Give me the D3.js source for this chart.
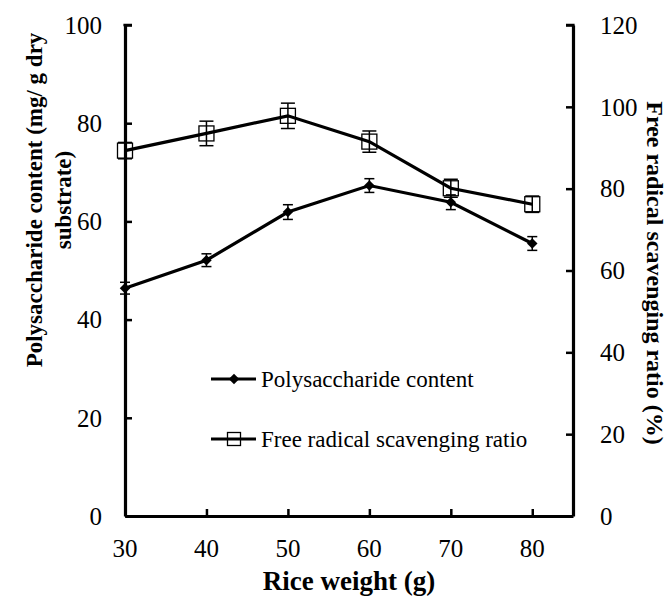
<!DOCTYPE html>
<html>
<head>
<meta charset="utf-8">
<script src="https://cdn.jsdelivr.net/npm/d3@7"></script>
<style>
  body { margin: 0; background: #fff; }
</style>
</head>
<body>
<script>
// data
const riceWeight = [30, 40, 50, 60, 70, 80];
const polysaccharide = [46.4, 52.1, 61.9, 67.3, 63.9, 55.5];
const polyErr = [1.2, 1.3, 1.5, 1.4, 1.5, 1.4];
const scavenging = [89.3, 93.5, 97.8, 91.5, 80.1, 76.2];
const scavErr = [2.0, 3.0, 3.1, 2.6, 2.2, 2.0];
const xTicks = [30, 40, 50, 60, 70, 80];
const yLeftTicks = [0, 20, 40, 60, 80, 100];
const yRightTicks = [0, 20, 40, 60, 80, 100, 120];

const width = 670, height = 601;
const margin = {left: 125, right: 97, top: 25, bottom: 85};
const serif = "'Liberation Serif', 'Times New Roman', serif";

const svg = d3.select("body").append("svg")
    .attr("width", width)
    .attr("height", height)
    .attr("font-family", serif);

const x = d3.scaleLinear().domain([30, 85]).range([margin.left, width - margin.right]);
const yL = d3.scaleLinear().domain([0, 100]).range([height - margin.bottom, margin.top]);
const yR = d3.scaleLinear().domain([0, 120]).range([height - margin.bottom, margin.top]);

const poly = riceWeight.map((w, i) => ({x: w, y: polysaccharide[i], e: polyErr[i]}));
const scav = riceWeight.map((w, i) => ({x: w, y: scavenging[i], e: scavErr[i]}));

// axes, ticks pointing inward
const axisStroke = 3.2;
function styleAxis(g) {
  g.attr("font-family", serif);
  g.select(".domain").attr("stroke", "#000").attr("stroke-width", axisStroke);
  g.selectAll(".tick line").attr("stroke", "#000").attr("stroke-width", 2.5);
}

svg.append("g")
    .attr("transform", `translate(0,${yL(0)})`)
    .call(d3.axisTop(x).tickValues(xTicks).tickSize(7).tickSizeOuter(0).tickFormat(() => ""))
    .call(styleAxis);
svg.append("g")
    .selectAll("text")
    .data(xTicks)
    .join("text")
      .attr("x", d => x(d))
      .attr("y", 557)
      .attr("text-anchor", "middle")
      .attr("font-size", 25)
      .text(d => d);

svg.append("g")
    .attr("transform", `translate(${x(30)},0)`)
    .call(d3.axisRight(yL).tickValues(yLeftTicks).tickSize(7).tickSizeOuter(0).tickFormat(() => ""))
    .call(styleAxis);
svg.append("g")
    .selectAll("text")
    .data(yLeftTicks)
    .join("text")
      .attr("x", 102)
      .attr("y", d => yL(d))
      .attr("dy", "0.35em")
      .attr("text-anchor", "end")
      .attr("font-size", 25)
      .text(d => d);

svg.append("g")
    .attr("transform", `translate(${x(85)},0)`)
    .call(d3.axisLeft(yR).tickValues(yRightTicks).tickSize(7).tickSizeOuter(0).tickFormat(() => ""))
    .call(styleAxis);
svg.append("g")
    .selectAll("text")
    .data(yRightTicks)
    .join("text")
      .attr("x", 600)
      .attr("y", d => yR(d))
      .attr("dy", "0.35em")
      .attr("text-anchor", "start")
      .attr("font-size", 25)
      .text(d => d);

// small caps at the ends of the outer axis lines
svg.append("line").attr("x1", x(30) - 1.6).attr("x2", x(30) + 7).attr("y1", yL(100)).attr("y2", yL(100))
    .attr("stroke", "#000").attr("stroke-width", 2.5);
svg.append("line").attr("x1", x(85) + 1.6).attr("x2", x(85) - 7).attr("y1", yR(120)).attr("y2", yR(120))
    .attr("stroke", "#000").attr("stroke-width", 2.5);

// axis titles
svg.append("text")
    .attr("x", x(57.5))
    .attr("y", 590)
    .attr("text-anchor", "middle")
    .attr("font-size", 27)
    .attr("font-weight", "bold")
    .text("Rice weight (g)");

const leftTitle = svg.append("text")
    .attr("transform", "translate(34,200) rotate(-90)")
    .attr("text-anchor", "middle")
    .attr("font-size", 23)
    .attr("font-weight", "bold");
leftTitle.append("tspan").attr("x", 0).attr("dy", "0.35em").text("Polysaccharide content (mg/ g dry");
leftTitle.append("tspan").attr("x", 0).attr("dy", "1.25em").text("substrate)");

svg.append("text")
    .attr("transform", "translate(655,273) rotate(90)")
    .attr("text-anchor", "middle")
    .attr("dy", "0.35em")
    .attr("font-size", 24)
    .attr("font-weight", "bold")
    .text("Free radical scavenging ratio (%)");

// lines
const lineL = d3.line().x(d => x(d.x)).y(d => yL(d.y));
const lineR = d3.line().x(d => x(d.x)).y(d => yR(d.y));

svg.append("path").datum(poly)
    .attr("d", lineL).attr("fill", "none").attr("stroke", "#000").attr("stroke-width", 3.2);
svg.append("path").datum(scav)
    .attr("d", lineR).attr("fill", "none").attr("stroke", "#000").attr("stroke-width", 3.2);

// error bars
function errorBars(data, y, cap) {
  const g = svg.append("g").attr("stroke", "#000").attr("stroke-width", 1.5);
  g.selectAll("line.v").data(data).join("line")
      .attr("x1", d => x(d.x)).attr("x2", d => x(d.x))
      .attr("y1", d => y(d.y - d.e)).attr("y2", d => y(d.y + d.e));
  g.selectAll("line.t").data(data).join("line")
      .attr("x1", d => x(d.x) - cap).attr("x2", d => x(d.x) + cap)
      .attr("y1", d => y(d.y + d.e)).attr("y2", d => y(d.y + d.e));
  g.selectAll("line.b").data(data).join("line")
      .attr("x1", d => x(d.x) - cap).attr("x2", d => x(d.x) + cap)
      .attr("y1", d => y(d.y - d.e)).attr("y2", d => y(d.y - d.e));
}
errorBars(poly, yL, 5);
errorBars(scav, yR, 7);

// markers
const diamond = d3.symbol().type(d3.symbolDiamond2).size(70);
svg.append("g").selectAll("path").data(poly).join("path")
    .attr("d", diamond)
    .attr("transform", d => `translate(${x(d.x)},${yL(d.y)})`)
    .attr("fill", "#000");

const sq = 15;
svg.append("g").selectAll("rect").data(scav).join("rect")
    .attr("x", d => x(d.x) - sq / 2).attr("y", d => yR(d.y) - sq / 2)
    .attr("width", sq).attr("height", sq)
    .attr("fill", "none").attr("stroke", "#000").attr("stroke-width", 1.3);

// legend
const legend = [
  {label: "Polysaccharide content", y: 379, marker: "diamond"},
  {label: "Free radical scavenging ratio", y: 439, marker: "square"}
];
const lg = svg.append("g").selectAll("g").data(legend).join("g")
    .attr("transform", d => `translate(0,${d.y})`);
lg.append("line").attr("x1", 211).attr("x2", 256).attr("y1", 0).attr("y2", 0)
    .attr("stroke", "#000").attr("stroke-width", 3.2);
lg.filter(d => d.marker === "diamond").append("path")
    .attr("d", diamond).attr("transform", "translate(234,0)").attr("fill", "#000");
lg.filter(d => d.marker === "square").append("rect")
    .attr("x", 234 - 6.5).attr("y", -6.5).attr("width", 13).attr("height", 13)
    .attr("fill", "none").attr("stroke", "#000").attr("stroke-width", 1.3);
lg.append("text")
    .attr("x", 261).attr("y", 0).attr("dy", "0.35em")
    .attr("font-size", 23)
    .text(d => d.label);
</script>
</body>
</html>
